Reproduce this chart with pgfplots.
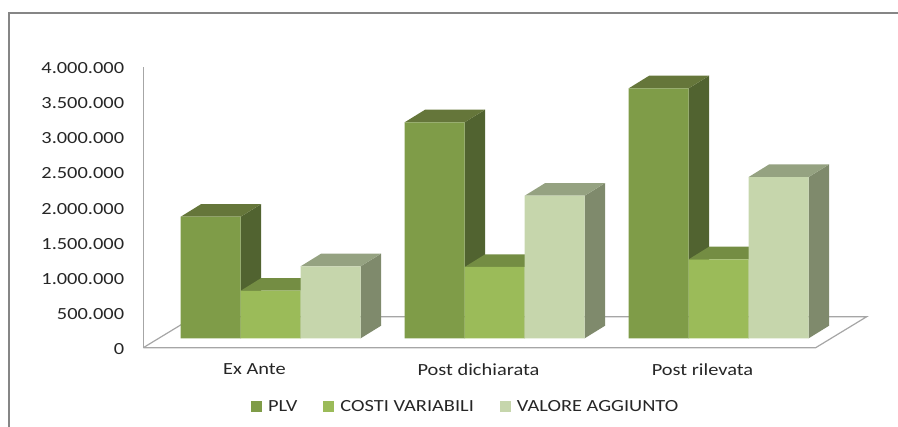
\documentclass[border=0pt]{standalone}
\usepackage{pgfplots}
\usepackage{pgfplotstable}
\usepackage{fontspec}
\setmainfont[FakeStretch=1.2]{Carlito}
\pgfplotsset{compat=1.18}
\definecolor{plvF}{HTML}{7F9C48}
\definecolor{plvT}{HTML}{65763A}
\definecolor{plvS}{HTML}{516330}
\definecolor{cosF}{HTML}{9BBB59}
\definecolor{cosT}{HTML}{748D43}
\definecolor{cosS}{HTML}{5D7136}
\definecolor{valF}{HTML}{C6D6AC}
\definecolor{valT}{HTML}{95A281}
\definecolor{valS}{HTML}{7F8A6C}
\definecolor{frameC}{HTML}{868686}
\definecolor{floorC}{HTML}{A6A6A6}
\definecolor{txt}{HTML}{262626}
\pgfplotstableread{
x v
210.7 1730000
434.7 3074000
658.7 3557000
}\plvdata
\pgfplotstableread{
x v
270.7 677000
494.7 1015000
718.7 1124000
}\cosdata
\pgfplotstableread{
x v
330.7 1025000
554.7 2029000
778.7 2295000
}\valdata
% faces of a bar: dx from the left of the bar, share of the value, offset in the depth direction
\pgfplotstableread{
dx f off
0 1 133760
60 1 133760
80.4 1 313060
20.4 1 313060
0 1 133760
}\topface
\pgfplotstableread{
dx f off
60 0 133760
80.4 0 313060
80.4 1 313060
60 1 133760
60 0 133760
}\sideface
\newcommand{\barfaces}[4]{%
  \addplot[fill=#4,draw=none,forget plot] table[x expr=#1+\thisrow{dx},y expr=#2*\thisrow{f}+\thisrow{off}]{\sideface};
  \addplot[fill=#3,draw=none,forget plot] table[x expr=#1+\thisrow{dx},y expr=#2*\thisrow{f}+\thisrow{off}]{\topface};
}
\newcommand{\lfont}{\fontsize{17}{20}\selectfont}
\begin{document}
\begin{tikzpicture}[x=1pt,y=1pt]
\useasboundingbox (0,0) rectangle (898,427);
\draw[frameC,line width=1.3pt] (9,0) -- (9,414) -- (898,414);
\begin{axis}[
  at={(143.3pt,79.3pt)},anchor=south west,
  scale only axis,width=723.4pt,height=281.1pt,
  xmin=143.3,xmax=866.7,ymin=0,ymax=4000000,
  clip=false,
  axis lines*=left,
  x axis line style={draw=none,-},
  y axis line style={draw=floorC,line width=1.2pt,-},
  major tick length=0pt,
  tick style={draw=none},
  ytick={0,500000,1000000,1500000,2000000,2500000,3000000,3500000,4000000},
  scaled y ticks=false,
  /pgf/number format/.cd,fixed,assume math mode=true,1000 sep={.},
  /pgfplots/.cd,
  yticklabel style={font=\lfont,text=txt,anchor=east,inner sep=0pt,xshift=-19pt,yshift=-1.5pt},
  xtick={254.5,478.5,702.5},
  xticklabels={Ex Ante,Post dichiarata,Post rilevata},
  xticklabel style={font=\lfont,text=txt,inner sep=0pt,yshift=-16pt},
  legend cell align=left,
  legend columns=3,
  legend image code/.code={\path[#1] (0pt,-5.5pt) rectangle (11pt,5.5pt);},
  legend style={font=\lfont,text=txt,draw=none,fill=none,inner sep=0pt,
    at={(axis cs:251,-843900)},anchor=west,
    nodes={inner sep=0pt,anchor=west},
    /tikz/column 1/.style={column sep=6pt},
    /tikz/column 2/.style={column sep=26pt},
    /tikz/column 3/.style={column sep=6pt},
    /tikz/column 4/.style={column sep=26pt},
    /tikz/column 5/.style={column sep=6pt}},
]
\addlegendimage{fill=plvF,draw=none}
\addlegendimage{fill=cosF,draw=none}
\addlegendimage{fill=valF,draw=none}
% floor
\addplot[draw=floorC,line width=1.2pt,fill=white,forget plot] coordinates {(143.3,0)(815.7,0)(866.7,441000)(194.3,441000)(143.3,0)};
% PLV
\barfaces{180.7}{1730000}{plvT}{plvS}
\barfaces{404.7}{3074000}{plvT}{plvS}
\barfaces{628.7}{3557000}{plvT}{plvS}
\addplot[ybar,bar width=60pt,bar shift=0pt,fill=plvF,draw=none,yshift=9.4pt,forget plot] table[x=x,y=v]{\plvdata};
% COSTI VARIABILI
\barfaces{240.7}{677000}{cosT}{cosS}
\barfaces{464.7}{1015000}{cosT}{cosS}
\barfaces{688.7}{1124000}{cosT}{cosS}
\addplot[ybar,bar width=60pt,bar shift=0pt,fill=cosF,draw=none,yshift=9.4pt,forget plot] table[x=x,y=v]{\cosdata};
% VALORE AGGIUNTO
\barfaces{300.7}{1025000}{valT}{valS}
\barfaces{524.7}{2029000}{valT}{valS}
\barfaces{748.7}{2295000}{valT}{valS}
\addplot[ybar,bar width=60pt,bar shift=0pt,fill=valF,draw=none,yshift=9.4pt,forget plot] table[x=x,y=v]{\valdata};
\legend{PLV,COSTI VARIABILI,VALORE AGGIUNTO}
\end{axis}
\end{tikzpicture}
\end{document}
